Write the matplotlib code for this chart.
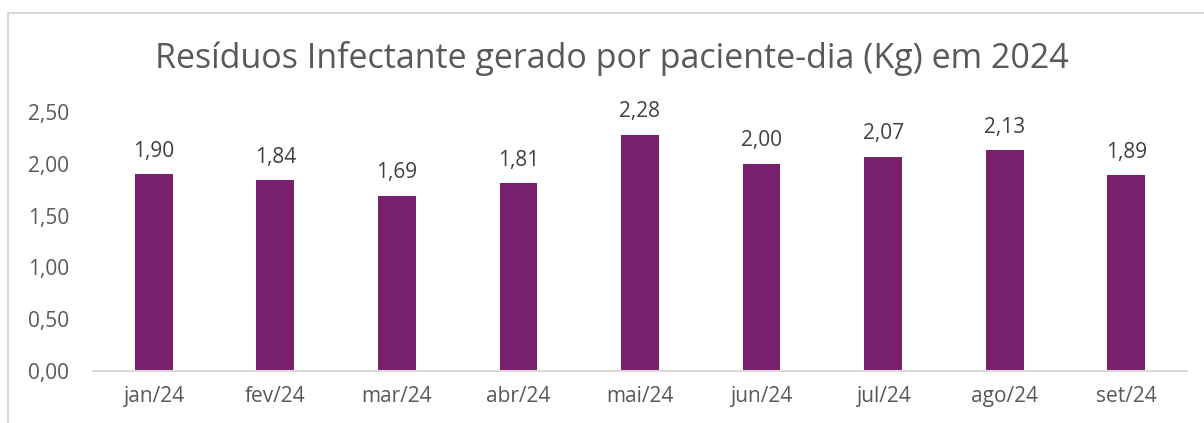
import matplotlib
matplotlib.use("Agg")
import matplotlib.pyplot as plt
from matplotlib.patches import Rectangle

months = ["jan/24", "fev/24", "mar/24", "abr/24", "mai/24", "jun/24", "jul/24", "ago/24", "set/24"]
values = [1.90, 1.84, 1.69, 1.81, 2.28, 2.00, 2.07, 2.13, 1.89]
yticks = [0.0, 0.5, 1.0, 1.5, 2.0, 2.5]
title = "Resíduos Infectante gerado por paciente-dia (Kg) em 2024"

plt.rcParams['font.family'] = ['Open Sans', 'DejaVu Sans']
W, H = 1204, 423
fig = plt.figure(figsize=(W/100, H/100), dpi=100)

# outer chart border
fig.patches.append(Rectangle((7.5/W, -0.1), 1.2, 1 - 13.5/H + 0.1, transform=fig.transFigure,
                             fill=False, edgecolor='#d9d9d9', linewidth=1.5))

left, right = 93/W, 1187/W
bottom, top = 1 - 371/H, 1 - 112/H
ax = fig.add_axes([left, bottom, right - left, top - bottom])
x = list(range(len(months)))
ax.bar(x, values, width=0.31, color='#78206e', zorder=2)
ax.set_xlim(-0.5, len(months) - 0.5)
ax.set_ylim(0, 2.5)
ax.set_yticks(yticks)
ax.set_yticklabels([f"{v:.2f}".replace('.', ',') for v in yticks])
ax.set_xticks(x)
ax.set_xticklabels(months)
for s in ['top', 'right', 'left']:
    ax.spines[s].set_visible(False)
ax.spines['bottom'].set_color('#d9d9d9')
ax.spines['bottom'].set_linewidth(1.5)
ax.tick_params(axis='both', length=0, colors='#595959', labelsize=15)
ax.tick_params(axis='y', pad=17)
ax.tick_params(axis='x', pad=11)
for xi, v in zip(x, values):
    ax.annotate(f"{v:.2f}".replace('.', ','), (xi, v), xytext=(0, 9), textcoords='offset points',
                ha='center', va='bottom', fontsize=15, color='#404040')

fig.text(612/W, 1 - 58/H, title, ha='center', va='center', fontsize=24.5, color='#595959')

fig.savefig("out.png", dpi=100)
